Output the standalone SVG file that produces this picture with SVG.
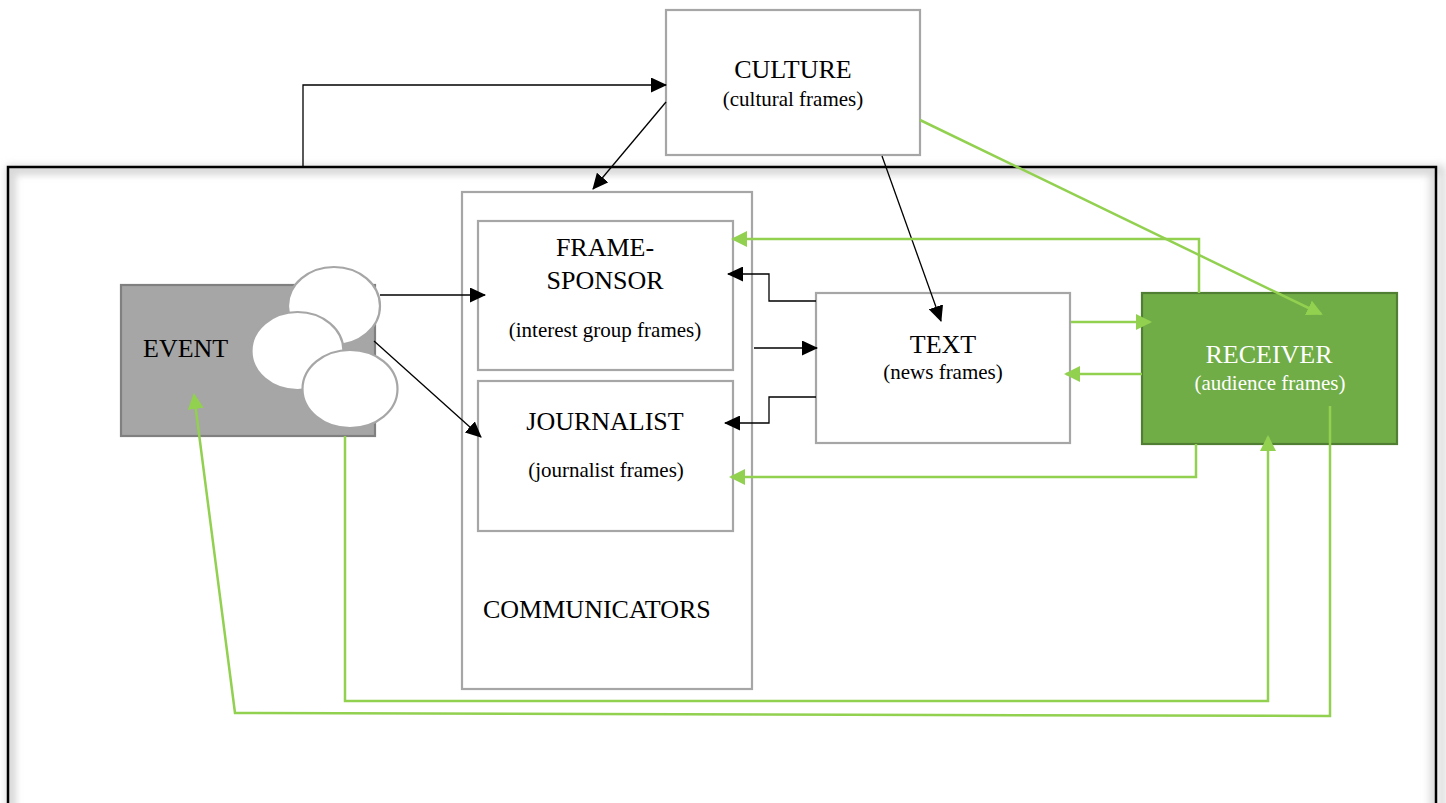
<svg xmlns="http://www.w3.org/2000/svg" width="1446" height="803" viewBox="0 0 1446 803">
  <style>
    .box { fill: #ffffff; stroke: #a6a6a6; stroke-width: 2.2; }
    .title { font-family: "Liberation Serif", "Times New Roman", serif; font-size: 26px; fill: #000000; }
    .sub { font-family: "Liberation Serif", "Times New Roman", serif; font-size: 21px; fill: #000000; }
    .white { fill: #ffffff; }
    .blk { fill: none; stroke: #000000; stroke-width: 1.3; }
    .grn { fill: none; stroke: #92d050; stroke-width: 2.5; }
    .bubble { fill: #ffffff; stroke: #a6a6a6; stroke-width: 2.2; }
  </style>
  <defs>
    <marker id="ahBlack" markerUnits="userSpaceOnUse" markerWidth="16" markerHeight="15" refX="15" refY="7.5" orient="auto">
      <path d="M0,0 L16,7.5 L0,15 z" fill="#000000"/>
    </marker>
    <marker id="ahGreen" markerUnits="userSpaceOnUse" markerWidth="16" markerHeight="16" refX="14" refY="8" orient="auto">
      <path d="M0,0 L16,8 L0,16 z" fill="#92d050"/>
    </marker>
    <filter id="soft" x="-5%" y="-5%" width="110%" height="110%">
      <feGaussianBlur stdDeviation="4"/>
    </filter>
    <clipPath id="frameInside">
      <rect x="9" y="168" width="1426" height="660"/>
    </clipPath>
  </defs>

  <rect x="0" y="0" width="1446" height="803" fill="#ffffff"/>

  <!-- outer frame with soft shading -->
  <g id="frame">
    <rect x="10" y="169" width="1432" height="660" fill="none" stroke="#cfcfcf" stroke-width="6" filter="url(#soft)"/>
    <g clip-path="url(#frameInside)">
      <rect x="8" y="167" width="1428" height="660" fill="none" stroke="#d9d9d9" stroke-width="12" filter="url(#soft)"/>
    </g>
    <rect x="8" y="167" width="1428" height="660" fill="none" stroke="#000000" stroke-width="2.5"/>
  </g>

  <!-- CULTURE -->
  <g id="culture">
    <rect class="box" x="666" y="10" width="254" height="145"/>
    <text class="title" x="793" y="78" text-anchor="middle">CULTURE</text>
    <text class="sub" x="793" y="106" text-anchor="middle">(cultural frames)</text>
  </g>

  <!-- COMMUNICATORS container -->
  <g id="communicators">
    <rect class="box" x="462" y="192" width="290" height="497"/>
    <text class="title" x="483" y="618">COMMUNICATORS</text>
  </g>

  <g id="frame-sponsor">
    <rect class="box" x="478" y="221" width="255" height="149"/>
    <text class="title" x="605" y="256" text-anchor="middle">FRAME-</text>
    <text class="title" x="605" y="289" text-anchor="middle">SPONSOR</text>
    <text class="sub" x="605" y="337" text-anchor="middle">(interest group frames)</text>
  </g>

  <g id="journalist">
    <rect class="box" x="478" y="381" width="255" height="150"/>
    <text class="title" x="605" y="430" text-anchor="middle">JOURNALIST</text>
    <text class="sub" x="606" y="477" text-anchor="middle">(journalist frames)</text>
  </g>

  <!-- EVENT -->
  <g id="event">
    <rect x="121" y="285" width="254" height="151" fill="#a6a6a6" stroke="#808080" stroke-width="2.2"/>
    <text class="title" x="143" y="357">EVENT</text>
    <ellipse class="bubble" cx="334" cy="306" rx="46" ry="39"/>
    <ellipse class="bubble" cx="297.5" cy="351" rx="46" ry="39"/>
    <ellipse class="bubble" cx="350" cy="389" rx="47.5" ry="39"/>
  </g>

  <!-- TEXT -->
  <g id="text-node">
    <rect class="box" x="816" y="293" width="254" height="150"/>
    <text class="title" x="943" y="353" text-anchor="middle">TEXT</text>
    <text class="sub" x="943" y="379" text-anchor="middle">(news frames)</text>
  </g>

  <!-- RECEIVER -->
  <g id="receiver">
    <rect x="1142" y="293" width="255" height="151" fill="#70ad47" stroke="#507e32" stroke-width="2.2"/>
    <text class="title white" x="1269" y="363" text-anchor="middle">RECEIVER</text>
    <text class="sub white" x="1270" y="389.5" text-anchor="middle">(audience frames)</text>
  </g>

  <!-- connectors -->
  <g id="connectors">
    <!-- black -->
    <path class="blk" d="M303,167 V85 H666" marker-end="url(#ahBlack)"/>
    <path class="blk" d="M666,102 L593,189" marker-end="url(#ahBlack)"/>
    <path class="blk" d="M882,156 L941,321" marker-end="url(#ahBlack)"/>
    <path class="blk" d="M380,295 H485" marker-end="url(#ahBlack)"/>
    <path class="blk" d="M374,341 L481,437" marker-end="url(#ahBlack)"/>
    <path class="blk" d="M754,348 H817" marker-end="url(#ahBlack)"/>
    <path class="blk" d="M816,301 H769 V274 H728" marker-end="url(#ahBlack)"/>
    <path class="blk" d="M816,397 H769 V423 H725" marker-end="url(#ahBlack)"/>

    <!-- green -->
    <path class="grn" d="M920,120 L1321,314" marker-end="url(#ahGreen)"/>
    <path class="grn" d="M1199,293 V239 H733" marker-end="url(#ahGreen)"/>
    <path class="grn" d="M1071,322 H1150" marker-end="url(#ahGreen)"/>
    <path class="grn" d="M1142,374 H1066" marker-end="url(#ahGreen)"/>
    <path class="grn" d="M1196,444 V477 H731" marker-end="url(#ahGreen)"/>
    <path class="grn" d="M345,436 V701 H1268 V437" marker-end="url(#ahGreen)"/>
    <path class="grn" d="M1330,406 V716 L235,713 L194,395" marker-end="url(#ahGreen)"/>
  </g>
</svg>
